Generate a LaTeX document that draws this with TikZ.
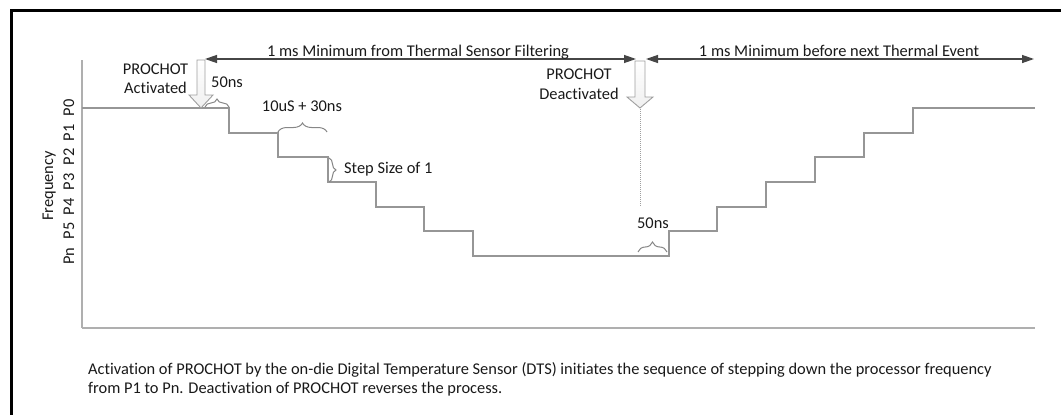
\documentclass[tikz,border=0pt]{standalone}
\usepackage{fontspec}
\setmainfont{Carlito}[Ligatures=NoCommon]
\usetikzlibrary{arrows.meta,decorations.pathreplacing}
\definecolor{txt}{RGB}{25,25,25}
\definecolor{stair}{RGB}{150,150,150}
\definecolor{axisc}{RGB}{175,175,175}
\definecolor{dimc}{RGB}{70,70,70}
\tikzset{
  lbl/.style={font=\fontsize{16.4}{19}\selectfont, text=txt, inner sep=0pt},
  captxt/.style={font=\fontsize{16.4}{19.5}\selectfont, text=txt, inner sep=0pt, align=left},
  plbl/.style={lbl, rotate=90},
  stairline/.style={draw=stair, line width=1.4pt},
  dimline/.style={draw=dimc, line width=1.3pt, {Triangle[length=12pt,width=8pt]}-{Triangle[length=12pt,width=8pt]}},
  bracestyle/.style={draw=stair!90!black, line width=1pt, decorate},
  hollow/.style={draw=gray!75, line width=0.9pt, top color=white, bottom color=gray!12},
}
\begin{document}
\begin{tikzpicture}[x=1pt,y=-1pt]
\useasboundingbox (0,0) rectangle (1061,415);
% frame
\draw[line width=3pt, black] (11,415) -- (11,10) -- (1061,10);
% axes
\coordinate (ytop) at (82,60);
\coordinate (orig) at (82,328);
\coordinate (xend) at (1035,328);
\draw[draw=axisc, line width=1.2pt] (ytop) -- (orig);
\draw[draw=axisc, line width=2pt] (orig) -- (xend);
% staircase
\coordinate (s0) at (82,108);
\coordinate (s1) at (1035,108);
\draw[stairline] (s0) -- (229,108) -- (229,133) -- (278,133) -- (278,157) -- (328,157)
  -- (328,182) -- (376,182) -- (376,207) -- (424,207) -- (424,231) -- (473,231)
  -- (473,256) -- (669,256) -- (669,231) -- (717,231) -- (717,207) -- (766,207)
  -- (766,182) -- (815,182) -- (815,157) -- (864,157) -- (864,133) -- (913,133)
  -- (913,108) -- (s1);
% dimension arrows
\coordinate (d1a) at (205,59);
\coordinate (d1b) at (636,59);
\coordinate (d2a) at (646,59);
\coordinate (d2b) at (1034,59);
\draw[dimline] (d1a) -- (d1b);
\draw[dimline] (d2a) -- (d2b);
\node[lbl, anchor=base] (t1) at (418,56) {1 ms Minimum from Thermal Sensor Filtering};
\node[lbl, anchor=base] (t2) at (839,56) {1 ms Minimum before next Thermal Event};
% hollow arrows
\draw[hollow] (197,60) -- (205,60) -- (205,95) -- (213,95) -- (201,108) -- (189,95) -- (197,95) -- cycle;
\draw[hollow] (635,61) -- (645,61) -- (645,97) -- (653,97) -- (640,108) -- (627,97) -- (635,97) -- cycle;
\coordinate (dtop) at (640,109);
\coordinate (dbot) at (640,207);
\draw[draw=gray!75, line width=0.9pt, dash pattern=on 1pt off 1pt] (dtop) -- (dbot);
% labels
\node[lbl, anchor=base, align=center] (pa1) at (155.5,74) {PROCHOT};
\node[lbl, anchor=base] (pa2) at (155.5,93) {Activated};
\node[lbl, anchor=base west] (n50a) at (211,87) {50ns};
\node[lbl, anchor=base] (n10) at (302,111) {10uS + 30ns};
\node[lbl, anchor=base west] (nstep) at (344,173) {Step Size of 1};
\node[lbl, anchor=base] (pd1) at (579,79) {PROCHOT};
\node[lbl, anchor=base] (pd2) at (579,99) {Deactivated};
\node[lbl, anchor=base] (n50d) at (653,228) {50ns};
% braces
\draw[bracestyle, decoration={brace, amplitude=8pt}] (205,107) -- (229,107);
\draw[bracestyle, decoration={brace, amplitude=9pt}] (278,132) -- (327,132);
\draw[bracestyle, decoration={brace, amplitude=7pt}] (329,158) -- (329,182);
\draw[bracestyle, decoration={brace, amplitude=10pt}] (638,252) -- (667,252);
% y labels
\node[plbl, anchor=base] (fq) at (53,186) {Frequency};
\node[plbl, anchor=base] (p0) at (74,108) {P0};
\node[plbl, anchor=base] (p1) at (74,133) {P1};
\node[plbl, anchor=base] (p2) at (74,157) {P2};
\node[plbl, anchor=base] (p3) at (74,182) {P3};
\node[plbl, anchor=base] (p4) at (74,207) {P4};
\node[plbl, anchor=base] (p5) at (74,231) {P5};
\node[plbl, anchor=base] (pn) at (74,256) {Pn};
% caption
\node[captxt, anchor=base west] (c1) at (88,374) {Activation of PROCHOT by the on-die Digital Temperature Sensor (DTS) initiates the sequence of stepping down the processor frequency};
\node[captxt, anchor=base west] (c2) at (88,393.5) {from P1 to Pn. Deactivation of PROCHOT reverses the process.};
\end{tikzpicture}
\end{document}
